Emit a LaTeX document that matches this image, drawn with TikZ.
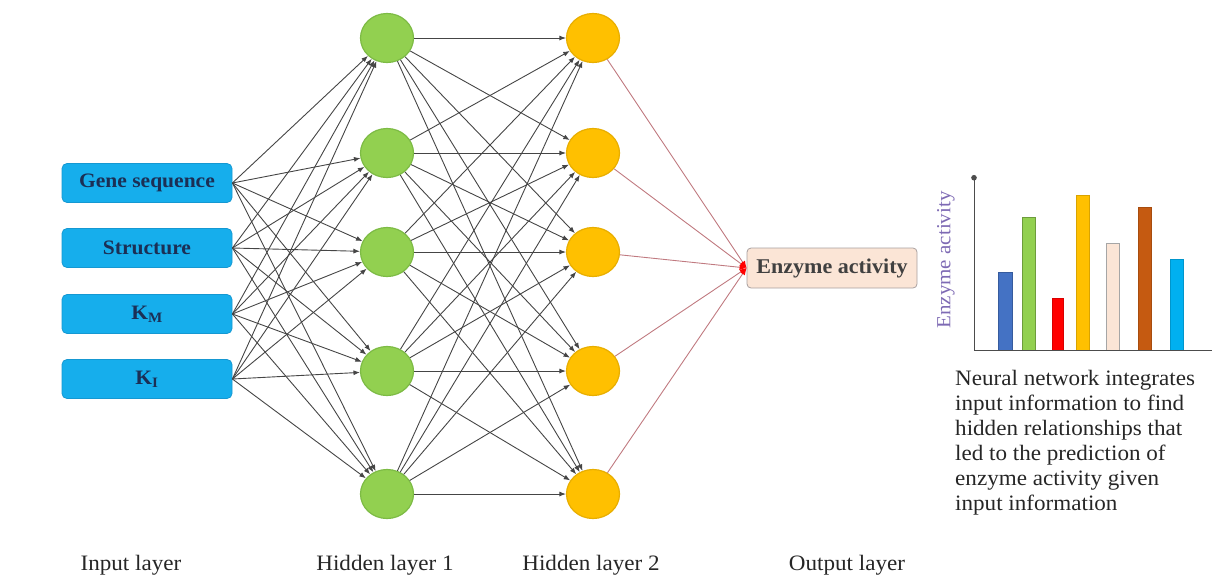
\documentclass[tikz,border=0pt]{standalone}
\usepackage{fontspec}
\setmainfont[FakeStretch=1.05]{Liberation Serif}
\usetikzlibrary{arrows.meta,shapes.geometric}
\definecolor{inblue}{HTML}{16AEEC}
\definecolor{inborder}{HTML}{1598D2}
\definecolor{navy}{HTML}{1B2F55}
\definecolor{hgreen}{HTML}{92D050}
\definecolor{hgreenb}{HTML}{7DBB45}
\definecolor{horange}{HTML}{FFC000}
\definecolor{horangeb}{HTML}{E8AE00}
\definecolor{linegray}{HTML}{454545}
\definecolor{rose}{HTML}{C07A80}
\definecolor{outfill}{HTML}{FBE5D6}
\definecolor{outborder}{HTML}{A8A0A0}
\definecolor{axlabel}{HTML}{7E6AB4}
\definecolor{barblue}{HTML}{4472C4}
\definecolor{bargreen}{HTML}{92D050}
\definecolor{barred}{HTML}{FF0000}
\definecolor{baryellow}{HTML}{FFC000}
\definecolor{barpink}{HTML}{FBE5D6}
\definecolor{barbrown}{HTML}{C55A11}
\definecolor{barcyan}{HTML}{00B0F0}
\begin{document}
\begin{tikzpicture}[x=1pt,y=-1pt,
  inbox/.style={draw=inborder, line width=0.8pt, fill=inblue, rounded corners=5pt,
    minimum width=170pt, minimum height=39pt, inner sep=0pt, text=navy,
    font=\fontsize{20.5}{24}\selectfont\bfseries},
  hidA/.style={ellipse, draw=hgreenb, line width=1.2pt, fill=hgreen,
    minimum width=53pt, minimum height=49pt, inner sep=0pt},
  hidB/.style={ellipse, draw=horangeb, line width=1.2pt, fill=horange,
    minimum width=53pt, minimum height=49pt, inner sep=0pt},
  outbox/.style={draw=outborder, line width=0.8pt, fill=outfill, rounded corners=4pt,
    minimum width=170pt, minimum height=40pt, inner sep=0pt, text=black!75,
    font=\fontsize{21}{25}\selectfont\bfseries},
  conn/.style={draw=linegray, line width=0.9pt, -{Latex[length=6.5pt,width=5pt]}},
  outconn/.style={draw=rose, line width=0.9pt, -{Latex[length=7pt,width=5.5pt,color=red]}},
  layerlabel/.style={font=\fontsize{22}{26}\selectfont, text=black!85},
  bar/.style={line width=0.8pt}
]
\useasboundingbox (0,0) rectangle (1212,579);

% input layer
\node[inbox] (i1) at (147,183) {Gene sequence};
\node[inbox] (i2) at (147,248) {Structure};
\node[inbox] (i3) at (147,314) {K\textsubscript{M}};
\node[inbox] (i4) at (147,379) {K\textsubscript{I}};

% hidden layer 1
\node[hidA] (a1) at (387,38) {};
\node[hidA] (a2) at (387,153) {};
\node[hidA] (a3) at (387,252) {};
\node[hidA] (a4) at (387,371) {};
\node[hidA] (a5) at (387,494) {};

% hidden layer 2
\node[hidB] (b1) at (593,38) {};
\node[hidB] (b2) at (593,153) {};
\node[hidB] (b3) at (593,252) {};
\node[hidB] (b4) at (593,371) {};
\node[hidB] (b5) at (593,494) {};

% output
\node[outbox] (out) at (832,268) {Enzyme activity};

% connections
\foreach \i in {1,...,4}{
  \foreach \j in {1,...,5}{
    \draw[conn] (i\i.east) -- (a\j);
  }
}
\foreach \i in {1,...,5}{
  \foreach \j in {1,...,5}{
    \draw[conn] (a\i) -- (b\j);
  }
}
\foreach \j in {1,...,5}{
  \draw[outconn] (b\j) -- (out.west);
}

% bar chart
\fill[bar, fill=barblue, draw=barblue!80!black] (998,350) rectangle (1012,272);
\fill[bar, fill=bargreen, draw=bargreen!75!black] (1022,350) rectangle (1035,217);
\fill[bar, fill=barred, draw=barred!85!black] (1052,350) rectangle (1063,298);
\fill[bar, fill=baryellow, draw=baryellow!85!black] (1076,350) rectangle (1089,195);
\fill[bar, fill=barpink, draw=black!35] (1106,350) rectangle (1119,243);
\fill[bar, fill=barbrown, draw=barbrown!85!black] (1138,350) rectangle (1151,207);
\fill[bar, fill=barcyan, draw=barcyan!85!black] (1170,350) rectangle (1183,259);
\coordinate (ax0) at (974,350);
\coordinate (axtop) at (974,175);
\coordinate (axright) at (1212,350);
\draw[line width=0.9pt, black!70, -{Circle[length=5.5pt]}] (ax0) -- (axtop);
\draw[line width=0.9pt, black!70] (ax0) -- (axright);
\node[rotate=90, text=axlabel, font=\fontsize{20}{24}\selectfont] (ylab) at (946,260) {Enzyme activity};

% description
\node[anchor=north west, align=left, inner sep=0pt, text=black!85,
  font=\fontsize{22}{25}\selectfont] (desc) at (955,370)
  {Neural network integrates\\input information to find\\hidden relationships that\\led to the prediction of\\enzyme activity given\\input information};

% layer labels
\node[layerlabel] (l1) at (131,565) {Input layer};
\node[layerlabel] (l2) at (385,565) {Hidden layer 1};
\node[layerlabel] (l3) at (591,565) {Hidden layer 2};
\node[layerlabel] (l4) at (847,565) {Output layer};
\end{tikzpicture}
\end{document}
